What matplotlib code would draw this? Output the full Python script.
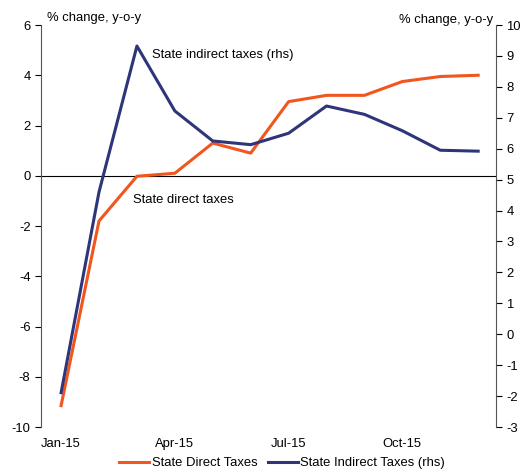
import matplotlib
matplotlib.use("Agg")
import matplotlib.pyplot as plt

plt.rcParams['font.family'] = ['Liberation Sans', 'DejaVu Sans']
plt.rcParams['axes.unicode_minus'] = False

months = ["Jan-15", "Feb-15", "Mar-15", "Apr-15", "May-15", "Jun-15",
          "Jul-15", "Aug-15", "Sep-15", "Oct-15", "Nov-15", "Dec-15"]
direct = [-9.15, -1.8, -0.02, 0.1, 1.3, 0.9, 2.95, 3.2, 3.2, 3.75, 3.95, 4.0]
indirect = [-1.89, 4.6, 9.32, 7.22, 6.25, 6.13, 6.5, 7.38, 7.11, 6.58, 5.95, 5.92]
tick_labels = ["Jan-15", "Apr-15", "Jul-15", "Oct-15"]

orange = "#F0561E"
navy = "#2E3578"
fs = 9.4

fig = plt.figure(figsize=(5.31, 4.73), dpi=100)
ax = fig.add_axes([41/531, 1-427/473, (496-41)/531, (427-25)/473])
ax2 = ax.twinx()

x = list(range(len(months)))
l1, = ax.plot(x, direct, color=orange, lw=2.2, label="State Direct Taxes", zorder=3)
l2, = ax2.plot(x, indirect, color=navy, lw=2.2, label="State Indirect Taxes (rhs)", zorder=3)

ax.set_xlim(-0.53, 11.47)
ax.set_ylim(-10, 6)
ax2.set_ylim(-3, 10)
ax.set_yticks(range(-10, 7, 2))
ax2.set_yticks(range(-3, 11, 1))
ax.axhline(0, color="black", lw=0.8, zorder=2)

ax.set_xticks([months.index(t) for t in tick_labels])
ax.set_xticklabels(tick_labels)
ax.tick_params(axis='x', length=0, pad=8, labelsize=fs)
ax.tick_params(axis='y', direction='out', length=4, labelsize=fs, width=0.8)
ax2.tick_params(axis='y', direction='out', length=4, labelsize=fs, width=0.8)

for a in (ax, ax2):
    a.spines['top'].set_visible(False)
    a.spines['bottom'].set_visible(False)
    a.spines['left'].set_color('#555555')
    a.spines['right'].set_color('#555555')
ax.spines['right'].set_visible(False)
ax2.spines['left'].set_visible(False)

fig.text(47/531, 1-18/473, "% change, y-o-y", fontsize=fs, va='center', ha='left')
fig.text(493/531, 1-20/473, "% change, y-o-y", fontsize=fs, va='center', ha='right')

fig.text(152/531, 1-55/473, "State indirect taxes (rhs)", fontsize=fs, va='center', ha='left')
fig.text(133/531, 1-200/473, "State direct taxes", fontsize=fs, va='center', ha='left')

fig.legend(handles=[l1, l2], loc='center', bbox_to_anchor=(282/531, 1-463/473),
           ncol=2, frameon=False, fontsize=fs, handlelength=2.3, handletextpad=0.2,
           columnspacing=0.8)

fig.savefig("out.png", dpi=100)
